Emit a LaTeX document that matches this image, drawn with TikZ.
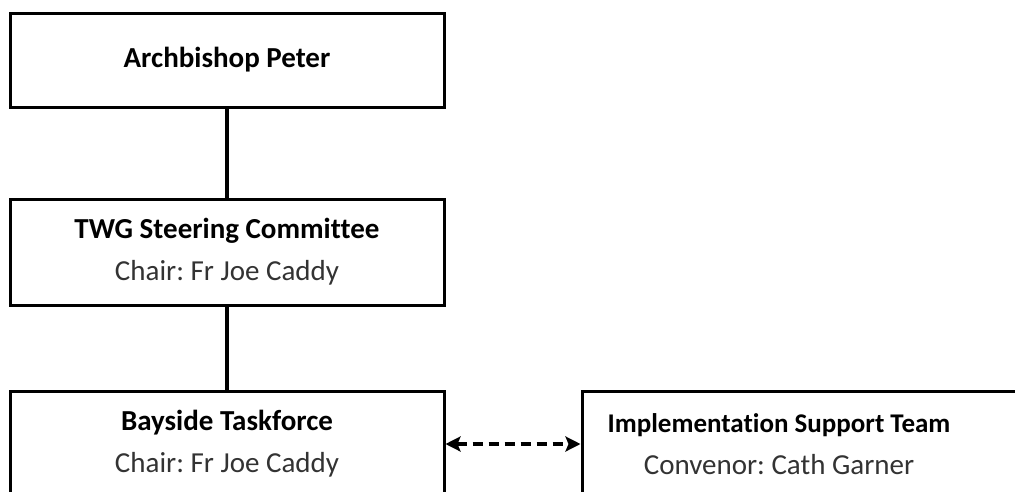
\documentclass[tikz,border=0pt]{standalone}
\usepackage{fontspec}
\setmainfont{Carlito}[Ligatures=NoCommon]
\usetikzlibrary{arrows.meta,positioning}

\begin{document}
\frenchspacing
\begin{tikzpicture}[x=1pt, y=-1pt, >={Stealth[length=15pt,width=15pt,inset=3pt]}, node distance=89pt and 135pt]
	\tikzstyle{unit}=[draw=black,line width=3pt,fill=white,minimum width=434pt,minimum height=106pt,align=center,font=\fontsize{29}{35}\selectfont]
	\tikzstyle{link}=[line width=3.6pt]
	\useasboundingbox (0,0) rectangle (1015,491);
	\clip (0,0) rectangle (1015,491);
	\node[unit,minimum height=94pt] (peter) at (227,60) {\textbf{Archbishop Peter}};
	\node[unit,below=of peter] (twg) {\textbf{TWG Steering Committee}\\[7pt]{\color{black!80}Chair: Fr Joe Caddy}};
	\node[unit,below=83pt of twg] (bayside) {\textbf{Bayside Taskforce}\\[7pt]{\color{black!80}Chair: Fr Joe Caddy}};
	\node[unit,draw=none,fill=none,minimum width=394pt,right=of bayside] (ist) {{\fontsize{27}{35}\selectfont\textbf{Implementation Support Team}}\\[7pt]{\color{black!80}Convenor: Cath Garner}};
	% box runs off the right edge, text sits left of its middle
	\draw[line width=3pt] ([shift={(1.5,1.5)}]ist.north west) rectangle ++(500,130);
	\draw[link] (peter) -- (twg);
	\draw[link] (twg) -- (bayside);
	\draw[link,<->,dash pattern=on 10pt off 6pt] (bayside) -- (ist);
\end{tikzpicture}
\end{document}
